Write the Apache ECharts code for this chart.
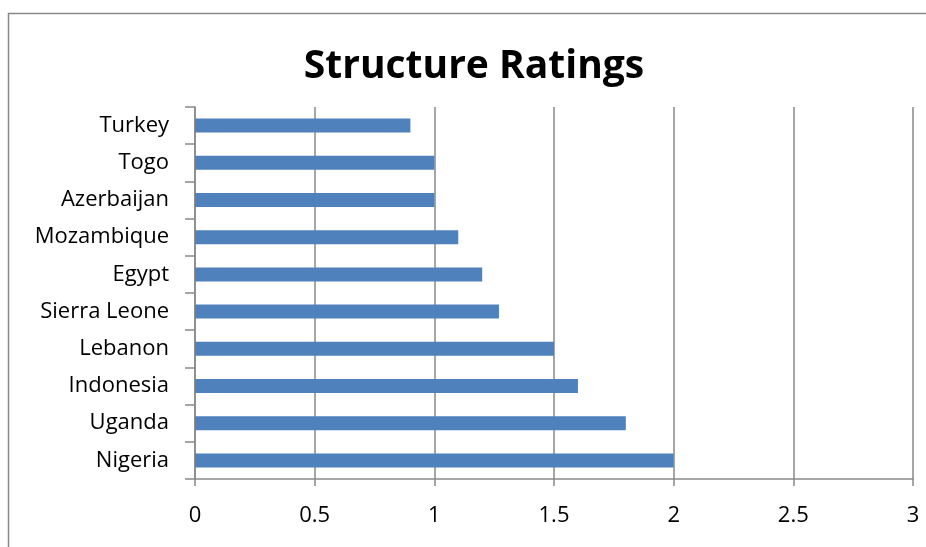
<!DOCTYPE html>
<html><head><meta charset="utf-8">
<style>html,body{margin:0;padding:0;background:#fff}#c{width:926px;height:547px}</style>
<script src="https://cdn.jsdelivr.net/npm/echarts@6/dist/echarts.min.js"></script>
</head><body><div id="c"></div>
<script>
const categories = ["Nigeria","Uganda","Indonesia","Lebanon","Sierra Leone","Egypt","Mozambique","Azerbaijan","Togo","Turkey"];
const ratings = [2.0, 1.8, 1.6, 1.5, 1.27, 1.2, 1.1, 1.0, 1.0, 0.9];
const titleText = "Structure Ratings";

const chart = echarts.init(document.getElementById('c'), null, {renderer:'canvas'});
const font = "'Open Sans', sans-serif";
chart.setOption({
  animation: false,
  backgroundColor: '#fff',
  graphic: [{type:'rect', shape:{x:8.5,y:13.5,width:1000,height:1000}, style:{fill:'none', stroke:'#898989', lineWidth:1.5}, silent:true}],
  title: {text: titleText, left: 469, top: 42, textAlign:'center',
    textStyle:{fontFamily: font, fontSize: 39, fontWeight:'bold', color:'#000'}},
  grid: {left: 195, right: 13, top: 107, bottom: 68, containLabel:false},
  xAxis: {type:'value', min:0, max:3, interval:0.5,
    axisLine:{show:true, lineStyle:{color:'#898989', width:1.5}},
    axisTick:{show:true, length:7, lineStyle:{color:'#898989', width:1.5}},
    splitLine:{show:true, lineStyle:{color:'#898989', width:1.5}},
    axisLabel:{color:'#000', fontFamily:font, fontSize:22, margin:26}},
  yAxis: {type:'category', data: categories,
    axisLine:{show:true, lineStyle:{color:'#898989', width:1.5}},
    axisTick:{show:true, length:10, inside:false, lineStyle:{color:'#898989', width:1.5}},
    axisLabel:{color:'#000', fontFamily:font, fontSize:22, margin:26, padding:[4,0,0,0]}},
  series: [{type:'bar', data: ratings, barWidth: 14, itemStyle:{color:'#4F81BD'}}]
});
</script></body></html>
